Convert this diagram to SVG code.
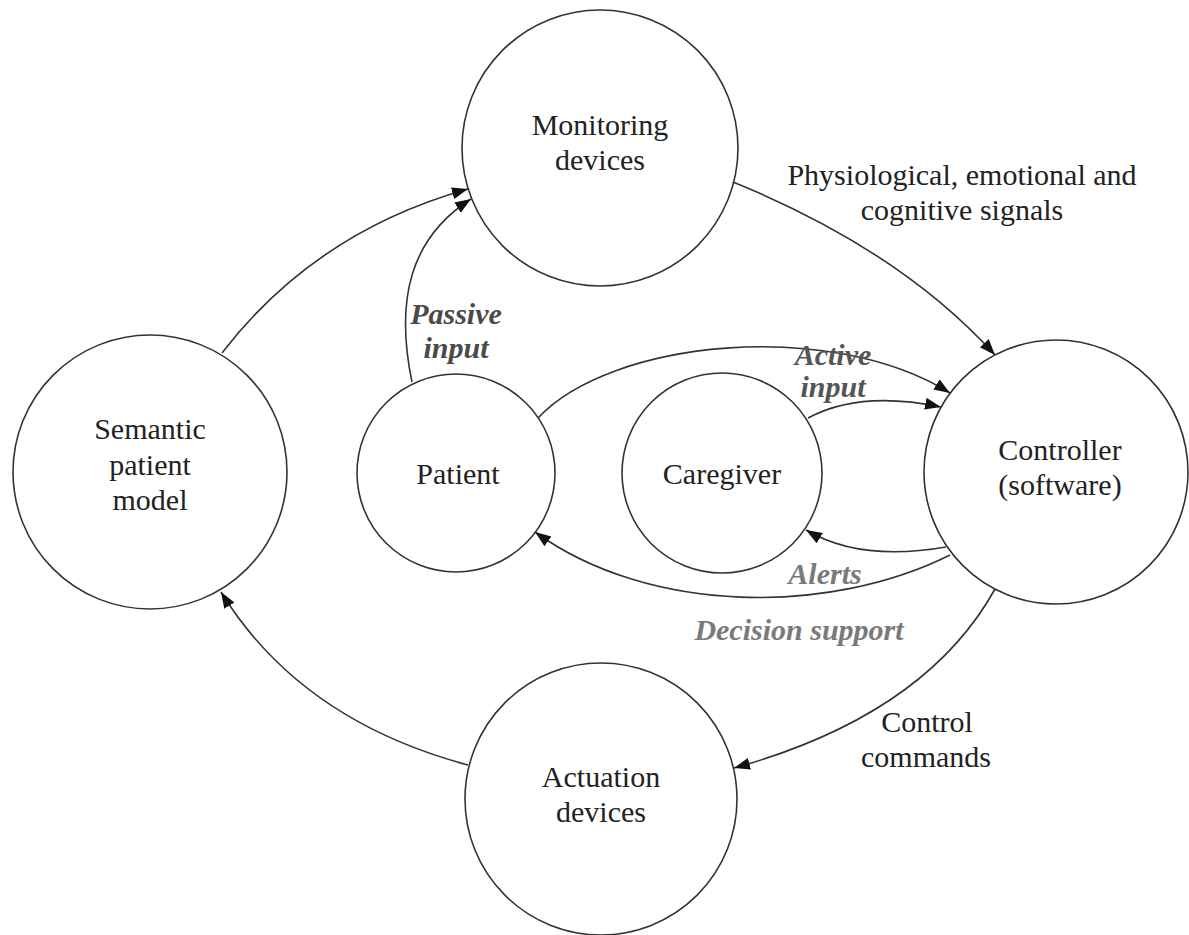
<svg xmlns="http://www.w3.org/2000/svg" width="1189" height="935" viewBox="0 0 1189 935">
  <style>
    .node { fill: #ffffff; stroke: #333333; stroke-width: 1.6; }
    .label { font-family: "Liberation Serif", "Times New Roman", serif; font-size: 30px; fill: #222222; text-anchor: middle; }
    .edge { fill: none; stroke: #333333; stroke-width: 1.6; marker-end: url(#arrow); }
    .elabel { font-family: "Liberation Serif", "Times New Roman", serif; font-size: 30px; fill: #222222; text-anchor: middle; }
    .flow { font-family: "Liberation Serif", "Times New Roman", serif; font-size: 30px; font-style: italic; font-weight: bold; text-anchor: middle; }
  </style>
  <defs>
    <marker id="arrow" markerUnits="userSpaceOnUse" markerWidth="18" markerHeight="14" refX="16" refY="6" orient="auto">
      <path d="M0,0 L16,6 L0,12 z" fill="#111111"/>
    </marker>
  </defs>
  <rect width="1189" height="935" fill="#ffffff"/>

  <!-- nodes -->
  <g id="monitoring">
    <circle class="node" cx="600" cy="148" r="138"/>
    <text class="label" x="600" y="135">Monitoring</text>
    <text class="label" x="600" y="170">devices</text>
  </g>
  <g id="semantic">
    <circle class="node" cx="150" cy="472" r="137"/>
    <text class="label" x="150" y="439">Semantic</text>
    <text class="label" x="150" y="475">patient</text>
    <text class="label" x="150" y="510">model</text>
  </g>
  <g id="patient">
    <circle class="node" cx="456" cy="473" r="99"/>
    <text class="label" x="458" y="484">Patient</text>
  </g>
  <g id="caregiver">
    <circle class="node" cx="722" cy="473" r="100"/>
    <text class="label" x="722" y="484">Caregiver</text>
  </g>
  <g id="controller">
    <circle class="node" cx="1056" cy="472" r="132"/>
    <text class="label" x="1060" y="460">Controller</text>
    <text class="label" x="1060" y="495">(software)</text>
  </g>
  <g id="actuation">
    <circle class="node" cx="601" cy="799" r="136"/>
    <text class="label" x="601" y="787">Actuation</text>
    <text class="label" x="601" y="822">devices</text>
  </g>

  <!-- connectors -->
  <g id="connectors">
    <path class="edge" d="M222,353 Q315,232 468,189"/>
    <path class="edge" d="M412,382 C395,300 410,238 471,199"/>
    <path class="edge" d="M733,182 Q900,250 995,355"/>
    <path class="edge" d="M538,418 C610,340 830,318 950,393"/>
    <path class="edge" d="M808,418 Q860,390 941,407"/>
    <path class="edge" d="M946,547 Q860,562 806,530"/>
    <path class="edge" d="M950,555 C830,615 650,615 535,532"/>
    <path class="edge" d="M995,589 Q925,715 734,768"/>
    <path class="edge" d="M468,765 Q300,720 221,592"/>
  </g>

  <!-- connector labels -->
  <g id="edge-labels">
    <text class="elabel" x="962" y="185">Physiological, emotional and</text>
    <text class="elabel" x="962" y="220">cognitive signals</text>
    <text class="flow" x="456" y="324" fill="#4a4a4a">Passive</text>
    <text class="flow" x="456" y="358" fill="#4a4a4a">input</text>
    <text class="flow" x="833" y="365" fill="#555555">Active</text>
    <text class="flow" x="833" y="397" fill="#555555">input</text>
    <text class="flow" x="825" y="584" fill="#7a7a7a">Alerts</text>
    <text class="flow" x="799" y="640" fill="#7a7a7a">Decision support</text>
    <text class="elabel" x="927" y="732">Control</text>
    <text class="elabel" x="926" y="767">commands</text>
  </g>
</svg>
